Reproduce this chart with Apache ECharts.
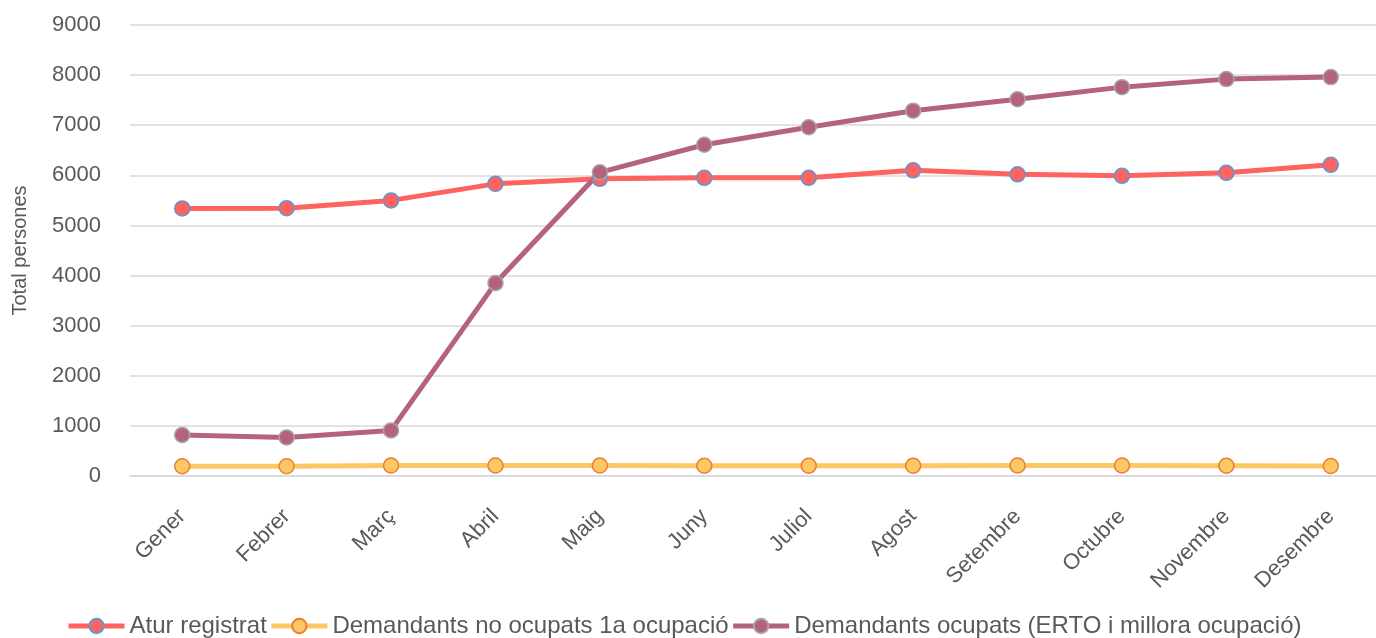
<!DOCTYPE html>
<html><head><meta charset="utf-8">
<script src="https://cdn.jsdelivr.net/npm/echarts@6/dist/echarts.min.js"></script>
<style>html,body{margin:0;padding:0;background:#fff;overflow:hidden}#c{width:1383px;height:638px}</style>
</head><body><div id="c"></div>
<script>
const categories = ['Gener','Febrer','Març','Abril','Maig','Juny','Juliol','Agost','Setembre','Octubre','Novembre','Desembre'];
const aturRegistrat = [5340, 5345, 5500, 5830, 5930, 5950, 5950, 6100, 6020, 5990, 6050, 6210];
const noOcupats1a = [195, 195, 210, 210, 210, 205, 205, 205, 210, 210, 205, 200];
const ocupatsErto = [820, 770, 910, 3850, 6060, 6610, 6960, 7290, 7520, 7760, 7920, 7960];
const seriesNames = ['Atur registrat','Demandants no ocupats 1a ocupació','Demandants ocupats (ERTO i millora ocupació)'];
const yTicks = {min: 0, max: 9000, interval: 1000};

const font = 'Liberation Sans, Arial, sans-serif';
const txt = '#595959';
function mk(name, data, color, border) {
  return {
    name, type: 'line', data,
    symbol: 'circle', symbolSize: 15,
    lineStyle: {color, width: 5},
    itemStyle: {color, borderColor: border, borderWidth: 1.5},
    emphasis: {disabled: true}
  };
}
const chart = echarts.init(document.getElementById('c'), null, {renderer: 'canvas'});
chart.setOption({
  animation: false,
  textStyle: {fontFamily: font},
  grid: {left: 130, right: 0, top: 25, bottom: 162},
  legend: {
    top: 609, left: 61,
    itemWidth: 56, itemHeight: 18, itemGap: 2,
    lineStyle: {width: 5},
    textStyle: {fontSize: 24, color: txt, fontFamily: font},
    data: seriesNames
  },
  xAxis: {
    type: 'category', data: categories, boundaryGap: true,
    axisLine: {show: true, lineStyle: {color: '#d9d9d9', width: 1.5}},
    axisTick: {show: false},
    axisLabel: {rotate: 45, fontSize: 22, color: txt, margin: 37, interval: 0, fontFamily: font}
  },
  yAxis: {
    type: 'value', min: yTicks.min, max: yTicks.max, interval: yTicks.interval,
    name: 'Total persones', nameLocation: 'middle', nameGap: 100, nameRotate: 90,
    nameTextStyle: {fontSize: 20, color: txt, fontFamily: font},
    axisLine: {show: false}, axisTick: {show: false},
    axisLabel: {fontSize: 22, color: txt, margin: 29, fontFamily: font, formatter: v => String(v)},
    splitLine: {lineStyle: {color: '#d9d9d9', width: 1.5}}
  },
  series: [
    mk(seriesNames[0], aturRegistrat, '#FF6361', '#5B9BD5'),
    mk(seriesNames[1], noOcupats1a, '#FCC765', '#ED7D31'),
    mk(seriesNames[2], ocupatsErto, '#B5637D', '#A5A5A5')
  ]
});
</script></body></html>
